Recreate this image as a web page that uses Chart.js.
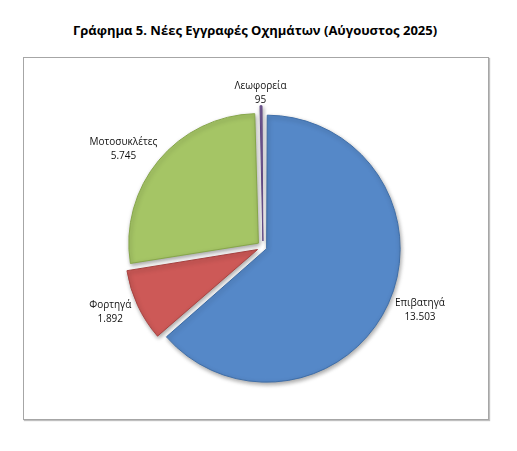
<!DOCTYPE html>
<html lang="el">
<head>
<meta charset="utf-8">
<script src="https://cdn.jsdelivr.net/npm/chart.js@4.4.1/dist/chart.umd.min.js"></script>
<style>
  html, body { margin: 0; padding: 0; background: #fff; }
  body { width: 517px; height: 451px; position: relative; overflow: hidden; }
  #title {
    position: absolute; left: 0; top: 21px; width: 510px; text-align: center;
    font-family: "Open Sans", "Noto Sans", sans-serif; font-weight: bold; font-size: 13px; color: #000;
  }
  #frame {
    position: absolute; left: 23px; top: 57px; width: 464px; height: 361px;
    border: 1px solid #a6a6a6; box-shadow: 1px 1px 1px rgba(0,0,0,0.25);
  }
  #chart { position: absolute; left: 0; top: 0; }
</style>
</head>
<body>
<div id="title">Γράφημα 5. Νέες Εγγραφές Οχημάτων (Αύγουστος 2025)</div>
<div id="frame"></div>
<canvas id="chart" width="517" height="451"></canvas>
<script>
// data
const categories = ['Επιβατηγά', 'Φορτηγά', 'Μοτοσυκλέτες', 'Λεωφορεία'];
const registrations = [13503, 1892, 5745, 95];
const sliceColors = ['#5588c8', '#cd5957', '#a5c565', '#8064a2'];
const sliceBorders = ['#3f6ea8', '#a84341', '#86a64a', '#5f4882'];
const sliceOffsets = [16, 24, 24, 24];

// thousands separator as in the source (13.503)
function fmt(v) {
    return String(v).replace(/\B(?=(\d{3})+(?!\d))/g, '.');
}

// soft shadow under the slices
const shadowPlugin = {
    id: 'sliceShadow',
    beforeDatasetsDraw(chart) {
        const ctx = chart.ctx;
        ctx.save();
        ctx.shadowColor = 'rgba(0,0,0,0.35)';
        ctx.shadowBlur = 4;
        ctx.shadowOffsetX = 1;
        ctx.shadowOffsetY = 2;
    },
    afterDatasetsDraw(chart) {
        chart.ctx.restore();
    }
};

// category + value labels outside each slice
const outsideLabels = {
    id: 'outsideLabels',
    afterDraw(chart) {
        const ctx = chart.ctx;
        const meta = chart.getDatasetMeta(0);
        ctx.save();
        ctx.font = '10px "Open Sans", "Noto Sans", sans-serif';
        ctx.fillStyle = '#111';
        ctx.textAlign = 'center';
        ctx.textBaseline = 'middle';
        meta.data.forEach((arc, i) => {
            const p = arc.getProps(['x', 'y', 'startAngle', 'endAngle', 'outerRadius'], true);
            const mid = (p.startAngle + p.endAngle) / 2;
            const dx = Math.cos(mid), dy = Math.sin(mid);
            const lines = [categories[i], fmt(registrations[i])];
            const w = Math.max(...lines.map(t => ctx.measureText(t).width));
            const h = 28;
            const cx = p.x + dx * (p.outerRadius + 18) + dx * w / 2;
            const cy = p.y + dy * (p.outerRadius + 10) + dy * h / 2;
            ctx.fillText(lines[0], cx, cy - 7);
            ctx.fillText(lines[1], cx, cy + 7);
        });
        ctx.restore();
    }
};

new Chart(document.getElementById('chart'), {
    type: 'pie',
    data: {
        labels: categories,
        datasets: [{
            data: registrations,
            backgroundColor: sliceColors,
            borderColor: sliceBorders,
            borderWidth: 1,
            offset: sliceOffsets,
            hoverOffset: 24
        }]
    },
    options: {
        responsive: false,
        animation: false,
        layout: { padding: { left: 121, right: 112, top: 105, bottom: 62 } },
        plugins: {
            legend: { display: false },
            title: { display: false },
            tooltip: { enabled: false }
        }
    },
    plugins: [shadowPlugin, outsideLabels]
});
</script>
</body>
</html>
